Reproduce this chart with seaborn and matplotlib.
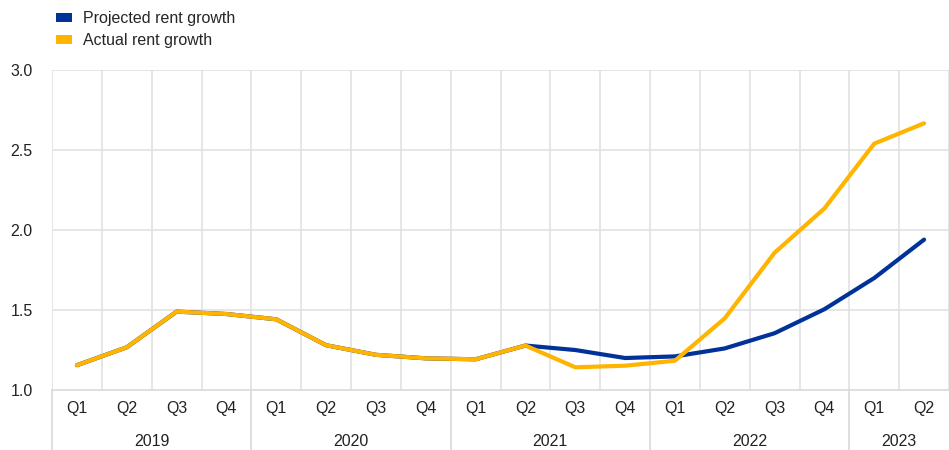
import matplotlib
matplotlib.use("Agg")
import matplotlib.pyplot as plt
import matplotlib.transforms as mtransforms
from matplotlib.patches import Patch
import seaborn as sns
import pandas as pd

# quarterly data, Q1 2019 - Q2 2023
years = ["2019", "2020", "2021", "2022", "2023"]
quarters_per_year = [4, 4, 4, 4, 2]
quarter_labels = ["Q1", "Q2", "Q3", "Q4"] * 4 + ["Q1", "Q2"]

projected = [1.155, 1.267, 1.49, 1.475, 1.442, 1.28, 1.22, 1.198, 1.192, 1.278,
             1.25, 1.20, 1.21, 1.26, 1.355, 1.505, 1.70, 1.94]
actual = [1.155, 1.267, 1.49, 1.475, 1.442, 1.28, 1.22, 1.198, 1.192, 1.278,
          1.142, 1.152, 1.183, 1.448, 1.858, 2.135, 2.54, 2.667]

series_names = ["Projected rent growth", "Actual rent growth"]
colors = ["#003299", "#FFB400"]

sns.set_theme(style="white")
plt.rcParams["font.family"] = ["Liberation Sans", "DejaVu Sans"]

n = len(quarter_labels)
df = pd.DataFrame({
    "idx": list(range(n)) * 2,
    "value": projected + actual,
    "series": [series_names[0]] * n + [series_names[1]] * n,
})

fig = plt.figure(figsize=(9.49, 4.5), dpi=100)
ax = fig.add_axes([0.0548, 0.1333, 0.9452, 0.7111])

sns.lineplot(data=df, x="idx", y="value", hue="series", hue_order=series_names,
             palette=colors, linewidth=3, ax=ax, legend=False,
             solid_capstyle="round", solid_joinstyle="round")

fs = 11.5
ax.set_xlim(-0.5, n - 0.5)
ax.set_ylim(1.0, 3.0)
ax.set_yticks([1.0, 1.5, 2.0, 2.5, 3.0])
ax.set_yticklabels([f"{v:.1f}" for v in [1.0, 1.5, 2.0, 2.5, 3.0]])
ax.set_xticks(range(n))
ax.set_xticklabels(quarter_labels)
ax.tick_params(axis="both", length=0, labelsize=fs, colors="#222222")
ax.tick_params(axis="x", pad=8)
ax.tick_params(axis="y", pad=14)
ax.set_xlabel("")
ax.set_ylabel("")

# gridlines
for v in [1.5, 2.0, 2.5, 3.0]:
    ax.axhline(v, color="#e1e1e1", linewidth=1.2, zorder=0)
for b in range(n + 1):
    ax.axvline(b - 0.5, color="#e1e1e1", linewidth=1.2, zorder=0)

for side in ["top", "right", "left"]:
    ax.spines[side].set_visible(False)
ax.spines["bottom"].set_color("#d9d9d9")
ax.spines["bottom"].set_linewidth(1.2)

# year labels and separators below axis
trans = mtransforms.blended_transform_factory(ax.transData, ax.transAxes)
start = 0
for yr, cnt in zip(years, quarters_per_year):
    ax.plot([start - 0.5, start - 0.5], [0, -0.19], transform=trans,
            color="#d9d9d9", linewidth=1.2, clip_on=False)
    ax.text(start + (cnt - 1) / 2, -0.16, yr, transform=trans, ha="center",
            va="center", fontsize=fs, color="#222222")
    start += cnt

handles = [Patch(facecolor=c, edgecolor="none") for c in colors]
fig.legend(handles, series_names, loc="upper left", bbox_to_anchor=(0.047, 1.0),
           frameon=False, fontsize=fs, handlelength=1.0, handleheight=0.45,
           handletextpad=0.7, labelspacing=0.45, borderaxespad=0.3)

fig.savefig("out.png", dpi=100)
